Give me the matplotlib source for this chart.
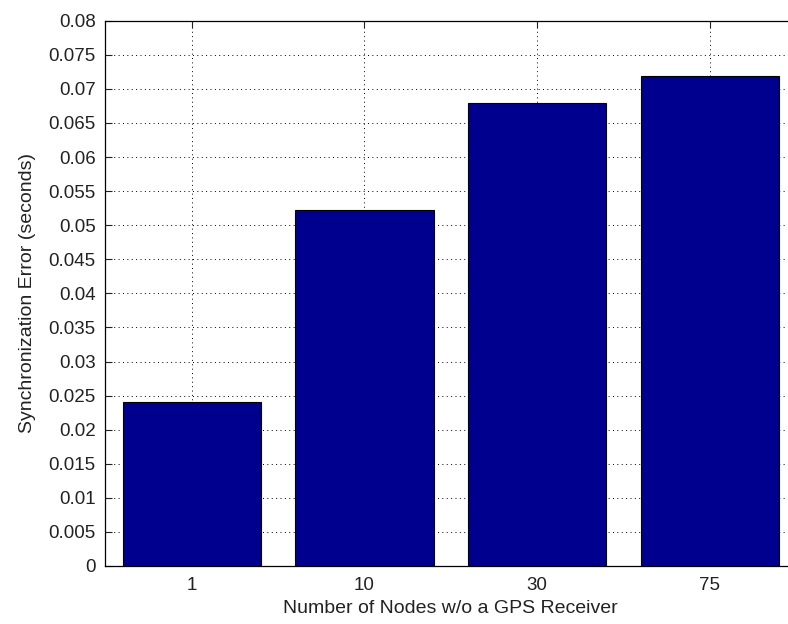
import matplotlib
matplotlib.use("Agg")
import matplotlib.pyplot as plt
import numpy as np

categories = ["1", "10", "30", "75"]
sync_error = [0.0240, 0.0522, 0.0679, 0.0719]
y_ticks = [0, 0.005, 0.01, 0.015, 0.02, 0.025, 0.03, 0.035, 0.04,
           0.045, 0.05, 0.055, 0.06, 0.065, 0.07, 0.075, 0.08]
y_tick_labels = ["0", "0.005", "0.01", "0.015", "0.02", "0.025", "0.03",
                 "0.035", "0.04", "0.045", "0.05", "0.055", "0.06",
                 "0.065", "0.07", "0.075", "0.08"]

plt.rcParams['font.family'] = ['Liberation Sans', 'DejaVu Sans']

fig = plt.figure(figsize=(7.88, 6.24), dpi=100)
ax = fig.add_axes([105.3 / 788, 58 / 624, 691 / 788, 545.3 / 624])

x = np.arange(1, len(categories) + 1)
ax.bar(x, sync_error, width=0.8, color="#00008F", edgecolor="black",
       linewidth=0.8, zorder=3)

ax.set_xlim(0.5, 4.5)
ax.set_ylim(0, 0.08)
ax.set_xticks(x)
ax.set_xticklabels(categories)
ax.set_yticks(y_ticks)
ax.set_yticklabels(y_tick_labels)

ax.grid(True, color="black", linestyle=(0, (1, 3.5)), linewidth=0.7, zorder=0)
ax.set_axisbelow(True)

ax.tick_params(direction="in", top=True, right=True, length=5,
               width=0.8, labelsize=13.5, colors="#222222")
ax.tick_params(axis="y", pad=7)
ax.tick_params(axis="x", pad=8)
for s in ax.spines.values():
    s.set_linewidth(0.9)

ax.set_xlabel("Number of Nodes w/o a GPS Receiver", fontsize=14,
              labelpad=4, color="#222222")
ax.set_ylabel("Synchronization Error (seconds)", fontsize=14,
              labelpad=9, color="#222222")

fig.savefig("out.png", dpi=100)
